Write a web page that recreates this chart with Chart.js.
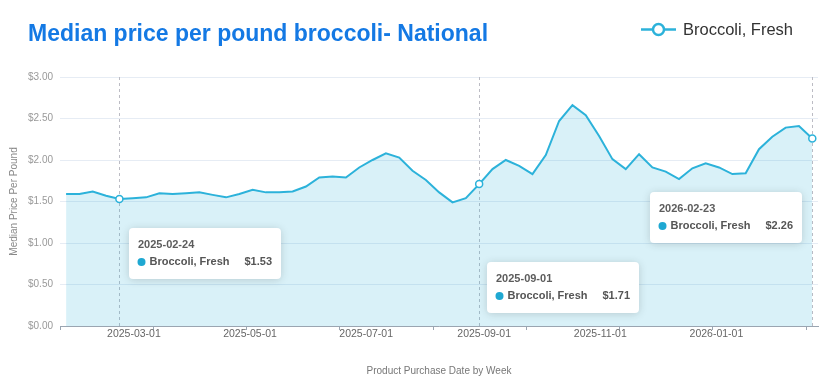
<!DOCTYPE html>
<html>
<head>
<meta charset="utf-8">
<script src="https://cdn.jsdelivr.net/npm/chart.js@4.4.1/dist/chart.umd.min.js"></script>
<style>
html, body { margin: 0; padding: 0; background: #fff; }
#wrap { position: relative; width: 824px; height: 389px; }
</style>
</head>
<body>
<div id="wrap"><canvas id="chart"></canvas></div>
<script>
const seriesName = 'Broccoli, Fresh';

const weeks = [
  '2025-01-27', '2025-02-03', '2025-02-10', '2025-02-17', '2025-02-24', '2025-03-03', '2025-03-10', '2025-03-17',
  '2025-03-24', '2025-03-31', '2025-04-07', '2025-04-14', '2025-04-21', '2025-04-28', '2025-05-05', '2025-05-12',
  '2025-05-19', '2025-05-26', '2025-06-02', '2025-06-09', '2025-06-16', '2025-06-23', '2025-06-30', '2025-07-07',
  '2025-07-14', '2025-07-21', '2025-07-28', '2025-08-04', '2025-08-11', '2025-08-18', '2025-08-25', '2025-09-01',
  '2025-09-08', '2025-09-15', '2025-09-22', '2025-09-29', '2025-10-06', '2025-10-13', '2025-10-20', '2025-10-27',
  '2025-11-03', '2025-11-10', '2025-11-17', '2025-11-24', '2025-12-01', '2025-12-08', '2025-12-15', '2025-12-22',
  '2025-12-29', '2026-01-05', '2026-01-12', '2026-01-19', '2026-01-26', '2026-02-02', '2026-02-09', '2026-02-16',
  '2026-02-23'
];

const prices = [
  1.59, 1.59, 1.62, 1.57, 1.53, 1.54, 1.55, 1.60,
  1.59, 1.60, 1.61, 1.58, 1.55, 1.59, 1.64, 1.61,
  1.61, 1.62, 1.68, 1.79, 1.80, 1.79, 1.91, 2.00,
  2.08, 2.03, 1.87, 1.76, 1.61, 1.49, 1.54, 1.71,
  1.89, 2.00, 1.93, 1.83, 2.06, 2.47, 2.66, 2.54,
  2.29, 2.01, 1.89, 2.07, 1.91, 1.86, 1.77, 1.90,
  1.96, 1.91, 1.83, 1.84, 2.13, 2.28, 2.39, 2.41,
  2.26
];

const monthTicks = ['2025-03-01', '2025-05-01', '2025-07-01', '2025-09-01', '2025-11-01', '2026-01-01'];
const yTicks = [0, 0.5, 1, 1.5, 2, 2.5, 3];

// weeks that have a tooltip pinned open, and where each box sits relative to its point
const pinned = ['2025-02-24', '2025-09-01', '2026-02-23'];
const tipOffsets = [[10, 29], [8, 78], [-162, 54]];

const FONT = '"Liberation Sans", Arial, Helvetica, sans-serif';
const lineColor = '#2cb2da';

const DAY = 86400000;
const dayOf = s => Date.parse(s) / DAY;
const xMin = dayOf(weeks[0]) - 3.2;
const xMax = dayOf(weeks[weeks.length - 1]) + 3;

const points = weeks.map((w, i) => ({ x: dayOf(w), y: prices[i] }));
const pinnedIdx = pinned.map(d => weeks.indexOf(d));
const money = v => '$' + Number(v).toFixed(2);

Chart.defaults.font.family = FONT;

const headerPlugin = {
  id: 'header',
  afterDraw(chart) {
    const ctx = chart.ctx;
    ctx.save();
    ctx.textBaseline = 'middle';
    ctx.fillStyle = '#1479e4';
    ctx.font = 'bold 23px ' + FONT;
    ctx.fillText('Median price per pound broccoli- National', 28, 35);

    // legend entry: line with hollow point
    ctx.strokeStyle = lineColor;
    ctx.lineWidth = 2.5;
    ctx.beginPath();
    ctx.moveTo(641, 29.5);
    ctx.lineTo(676, 29.5);
    ctx.stroke();
    ctx.beginPath();
    ctx.arc(658.5, 29.5, 5.5, 0, Math.PI * 2);
    ctx.fillStyle = '#fff';
    ctx.fill();
    ctx.stroke();
    ctx.fillStyle = '#333';
    ctx.font = '16.5px ' + FONT;
    ctx.fillText(seriesName, 683, 30.5);
    ctx.restore();
  }
};

const pinPlugin = {
  id: 'pins',
  beforeDatasetsDraw(chart) {
    const { ctx, chartArea } = chart;
    const xs = chart.scales.x;
    ctx.save();
    ctx.strokeStyle = '#bcbcc4';
    ctx.lineWidth = 1;
    ctx.setLineDash([3, 3]);
    pinnedIdx.forEach(i => {
      const px = Math.round(xs.getPixelForValue(points[i].x)) + 0.5;
      ctx.beginPath();
      ctx.moveTo(px, chartArea.top);
      ctx.lineTo(px, chartArea.bottom);
      ctx.stroke();
    });
    ctx.restore();
  },
  afterDraw(chart) {
    const ctx = chart.ctx;
    const meta = chart.getDatasetMeta(0);
    pinnedIdx.forEach((i, k) => {
      const el = meta.data[i];
      const bx = Math.round(el.x + tipOffsets[k][0]);
      const by = Math.round(el.y + tipOffsets[k][1]);
      const w = 152, h = 51;

      ctx.save();
      ctx.shadowColor = 'rgba(0,0,0,0.16)';
      ctx.shadowBlur = 8;
      ctx.shadowOffsetY = 1;
      ctx.fillStyle = '#fff';
      ctx.beginPath();
      ctx.roundRect(bx, by, w, h, 4);
      ctx.fill();
      ctx.restore();

      ctx.save();
      ctx.textBaseline = 'middle';
      ctx.font = 'bold 11px ' + FONT;
      ctx.fillStyle = '#5c5c5c';
      ctx.fillText(weeks[i], bx + 9, by + 17);

      ctx.fillStyle = '#1fa8d2';
      ctx.beginPath();
      ctx.arc(bx + 12.5, by + 34, 4, 0, Math.PI * 2);
      ctx.fill();

      ctx.fillStyle = '#555';
      ctx.fillText(seriesName, bx + 20.5, by + 34);
      ctx.textAlign = 'right';
      ctx.fillText(money(prices[i]), bx + w - 9, by + 34);
      ctx.restore();
    });
  }
};

new Chart(document.getElementById('chart'), {
  type: 'line',
  data: {
    datasets: [{
      label: seriesName,
      data: points,
      borderColor: lineColor,
      borderWidth: 2,
      backgroundColor: 'rgba(44,178,218,0.18)',
      fill: 'origin',
      tension: 0,
      pointRadius: c => pinnedIdx.includes(c.dataIndex) ? 3.5 : 0,
      pointBackgroundColor: '#fff',
      pointBorderColor: lineColor,
      pointBorderWidth: 1.5,
      pointHoverRadius: 0
    }]
  },
  options: {
    responsive: true,
    maintainAspectRatio: false,
    animation: false,
    events: [],
    layout: { padding: { top: 77, right: 6, left: 0, bottom: 0 } },
    plugins: {
      legend: { display: false },
      tooltip: { enabled: false }
    },
    scales: {
      x: {
        type: 'linear',
        min: xMin,
        max: xMax,
        afterBuildTicks: s => {
          const minor = [];
          for (let v = xMin; v <= xMax; v += 49) minor.push({ value: v, minor: true });
          s.ticks = minor.concat(monthTicks.map(d => ({ value: dayOf(d), name: d })));
        },
        afterFit: s => { s.height = 63; },
        ticks: {
          autoSkip: false,
          maxRotation: 0,
          labelOffset: 5,
          padding: -1,
          color: '#666',
          font: { size: 10.5, lineHeight: 1 },
          callback: (v, i, t) => t[i].name || ''
        },
        grid: {
          drawOnChartArea: false,
          tickLength: 4,
          tickColor: c => (c.tick && c.tick.minor) ? '#9aa5b1' : 'rgba(0,0,0,0)'
        },
        border: { color: '#9aa5b1' },
        title: {
          display: true,
          text: 'Product Purchase Date by Week',
          color: '#777',
          font: { size: 10 },
          padding: { top: 0, bottom: 12 }
        }
      },
      y: {
        min: 0,
        max: 3,
        afterBuildTicks: s => { s.ticks = yTicks.map(v => ({ value: v })); },
        afterFit: s => { s.width = 60; },
        ticks: {
          color: '#999',
          font: { size: 10 },
          padding: 7,
          callback: v => money(v)
        },
        grid: { color: '#e6ecf4', drawTicks: false },
        border: { display: false },
        title: {
          display: true,
          text: 'Median Price Per Pound',
          color: '#888',
          font: { size: 10 },
          padding: { top: 8, bottom: 0 }
        }
      }
    }
  },
  plugins: [headerPlugin, pinPlugin]
});
</script>
</body>
</html>
